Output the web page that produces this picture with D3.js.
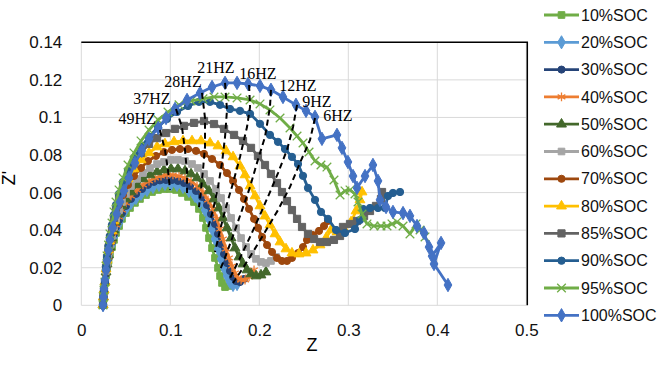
<!DOCTYPE html>
<html>
<head>
<meta charset="utf-8">
<script src="https://cdnjs.cloudflare.com/ajax/libs/d3/7.8.5/d3.min.js"></script>
<style>
body { margin: 0; background: #fff; }
</style>
</head>
<body>
<svg id="chart" width="665" height="367"></svg>
<script>
// series names and colours, in legend order
var seriesNames = ["10%SOC", "20%SOC", "30%SOC", "40%SOC", "50%SOC", "60%SOC",
    "70%SOC", "80%SOC", "85%SOC", "90%SOC", "95%SOC", "100%SOC"];
var seriesColors = ["#70AD47", "#5B9BD5", "#264478", "#ED7D31", "#43682B", "#A5A5A5",
    "#9E480E", "#FFC000", "#636363", "#255E91", "#70AD47", "#4472C4"];

// [Z, Z']
var soc10 = [[0.0244,0.0002],[0.0249,0.0044],[0.0255,0.0081],[0.0266,0.0124],[0.0278,0.0161],[0.0289,0.0199],
    [0.0306,0.0236],[0.0322,0.0273],[0.0345,0.031],[0.0367,0.0348],[0.039,0.0385],[0.0424,0.0422],[0.0457,0.046],
    [0.0502,0.0491],[0.0547,0.0518],[0.0603,0.0545],[0.0659,0.0566],[0.0727,0.0587],[0.0794,0.0603],[0.0862,0.0614],
    [0.0929,0.0619],[0.0997,0.0619],[0.1064,0.0614],[0.1131,0.0598],[0.1199,0.0577],[0.1266,0.055],[0.1322,0.0513],
    [0.1367,0.0465],[0.1401,0.0412],[0.1435,0.0358],[0.1469,0.0305],[0.1502,0.0252],[0.1536,0.0199],[0.1559,0.0156],
    [0.1581,0.0119],[0.1615,0.0097],[0.166,0.0103]];
var soc20 = [[0.0244,0.0002],[0.0249,0.0044],[0.0255,0.0081],[0.0266,0.0124],[0.0278,0.0167],[0.0289,0.0204],
    [0.0306,0.0247],[0.0322,0.0284],[0.0345,0.0326],[0.0367,0.0364],[0.039,0.0401],[0.0424,0.0438],[0.0457,0.0476],
    [0.0502,0.0513],[0.0558,0.0545],[0.0615,0.0571],[0.0671,0.0593],[0.0738,0.0614],[0.0806,0.063],[0.0873,0.0641],
    [0.094,0.0646],[0.1008,0.0646],[0.1075,0.0641],[0.1143,0.063],[0.121,0.0609],[0.1278,0.0582],[0.1334,0.055],
    [0.139,0.0507],[0.1435,0.046],[0.1469,0.0406],[0.1502,0.0353],[0.1536,0.03],[0.157,0.0247],[0.1604,0.0199],
    [0.1637,0.0156],[0.1671,0.0124],[0.1705,0.0108],[0.175,0.0113]];
var soc30 = [[0.0244,0.0002],[0.0249,0.0044],[0.0255,0.0081],[0.0266,0.0124],[0.0278,0.0167],[0.0289,0.0209],
    [0.0306,0.0252],[0.0322,0.0294],[0.0345,0.0337],[0.0367,0.038],[0.039,0.0417],[0.0424,0.0454],[0.0457,0.0491],
    [0.0502,0.0529],[0.0558,0.0566],[0.0615,0.0593],[0.0682,0.0619],[0.0749,0.0641],[0.0817,0.0657],[0.0884,0.0665],
    [0.0952,0.0667],[0.1019,0.0667],[0.1086,0.0662],[0.1154,0.0651],[0.1222,0.0635],[0.1289,0.0609],[0.1357,0.0577],
    [0.1412,0.0534],[0.1457,0.0486],[0.1502,0.0433],[0.1536,0.038],[0.157,0.0326],[0.1604,0.0273],[0.1637,0.0225],
    [0.1671,0.0183],[0.1705,0.0151],[0.1738,0.0129],[0.1783,0.0124],[0.1828,0.014]];
var soc40 = [[0.0244,0.0002],[0.0249,0.0044],[0.0255,0.0081],[0.0266,0.0124],[0.0278,0.0172],[0.0289,0.0215],
    [0.0306,0.0257],[0.0322,0.03],[0.0345,0.0348],[0.0367,0.039],[0.039,0.0428],[0.0424,0.047],[0.0457,0.0507],
    [0.0502,0.0545],[0.0558,0.0582],[0.0626,0.0614],[0.0693,0.0641],[0.0761,0.0662],[0.0828,0.0678],[0.0896,0.0688],
    [0.0963,0.0694],[0.103,0.0694],[0.1098,0.0688],[0.1165,0.0678],[0.1233,0.0662],[0.13,0.0635],[0.1367,0.0603],
    [0.1424,0.0561],[0.148,0.0513],[0.1525,0.046],[0.1559,0.0406],[0.1592,0.0353],[0.1626,0.03],[0.166,0.0252],
    [0.1693,0.0209],[0.1727,0.0172],[0.1761,0.0145],[0.1795,0.0135],[0.184,0.0135],[0.1885,0.0151],[0.1941,0.0188]];
var soc50 = [[0.0244,0.0002],[0.0249,0.0044],[0.0255,0.0081],[0.0266,0.0124],[0.0278,0.0177],[0.0289,0.022],
    [0.0306,0.0268],[0.0322,0.031],[0.0345,0.0358],[0.0367,0.0401],[0.039,0.0444],[0.0424,0.0486],[0.0457,0.0529],
    [0.0502,0.0566],[0.0558,0.0603],[0.0626,0.0641],[0.0693,0.0673],[0.0772,0.0694],[0.0851,0.071],[0.0929,0.072],
    [0.1008,0.0726],[0.1086,0.0726],[0.1165,0.0715],[0.1233,0.0699],[0.13,0.0678],[0.1367,0.0646],[0.1435,0.0609],
    [0.1491,0.0566],[0.1547,0.0518],[0.1592,0.0465],[0.1637,0.0412],[0.1683,0.0358],[0.1727,0.0305],[0.1772,0.0257],
    [0.1817,0.022],[0.1862,0.0188],[0.1907,0.0167],[0.1963,0.0156],[0.2019,0.0161],[0.2075,0.0177]];
var soc60 = [[0.0244,0.0002],[0.0249,0.0044],[0.0255,0.0081],[0.0266,0.0124],[0.0278,0.0183],[0.0289,0.0225],
    [0.0306,0.0273],[0.0322,0.0321],[0.0345,0.0369],[0.0367,0.0417],[0.039,0.046],[0.0424,0.0507],[0.0457,0.055],
    [0.0502,0.0593],[0.0558,0.0635],[0.0626,0.0673],[0.0693,0.0704],[0.0772,0.0731],[0.0851,0.0752],[0.0929,0.0763],
    [0.1008,0.0774],[0.1086,0.0774],[0.1165,0.0768],[0.1244,0.0752],[0.1311,0.0731],[0.1379,0.0699],[0.1446,0.0662],
    [0.1514,0.0619],[0.157,0.0571],[0.1626,0.0518],[0.1683,0.0465],[0.1738,0.0412],[0.1795,0.0358],[0.1851,0.031],
    [0.1907,0.0273],[0.1963,0.0247],[0.2019,0.0231],[0.2075,0.0225],[0.2131,0.0236],[0.2188,0.0257]];
var soc70 = [[0.0244,0.0002],[0.0249,0.0044],[0.0255,0.0081],[0.0266,0.0124],[0.0278,0.0188],[0.0289,0.0236],
    [0.0306,0.0284],[0.0322,0.0332],[0.0345,0.0385],[0.0367,0.0433],[0.039,0.0481],[0.0424,0.0534],[0.0469,0.0587],
    [0.0525,0.0641],[0.0592,0.0688],[0.0671,0.0731],[0.0749,0.0768],[0.0839,0.0795],[0.0929,0.0816],[0.1019,0.0827],
    [0.1109,0.0832],[0.1199,0.0832],[0.1289,0.0822],[0.1379,0.0806],[0.1469,0.0779],[0.1559,0.0747],[0.1637,0.0704],
    [0.1705,0.0662],[0.1772,0.0614],[0.1828,0.0566],[0.1884,0.0513],[0.1941,0.046],[0.1986,0.0412],[0.2031,0.0364],
    [0.2087,0.0321],[0.2143,0.0284],[0.2199,0.0252],[0.2255,0.0236],[0.2311,0.0236],[0.2367,0.0252],[0.2435,0.0278],
    [0.2491,0.031],[0.2536,0.0348],[0.2603,0.0374],[0.2671,0.0396],[0.2727,0.0422],[0.2772,0.0449]];
var soc80 = [[0.0244,0.0002],[0.0249,0.0044],[0.0255,0.0081],[0.0266,0.0124],[0.0278,0.0193],[0.0289,0.0241],
    [0.0306,0.0294],[0.0322,0.0342],[0.0345,0.0396],[0.0367,0.0449],[0.039,0.0497],[0.0424,0.0555],[0.0469,0.0614],
    [0.0525,0.0673],[0.0592,0.0726],[0.0671,0.0774],[0.0761,0.0811],[0.0851,0.0843],[0.094,0.0859],[0.1042,0.087],
    [0.1143,0.0875],[0.1244,0.0875],[0.1345,0.0875],[0.1446,0.0864],[0.1536,0.0848],[0.1626,0.0822],[0.1705,0.079],
    [0.1783,0.0742],[0.184,0.0694],[0.1896,0.0635],[0.1952,0.0582],[0.2008,0.0529],[0.2064,0.0475],[0.212,0.0428],
    [0.2177,0.038],[0.2233,0.0337],[0.23,0.03],[0.2367,0.0278],[0.2446,0.0273],[0.2525,0.0278],[0.2603,0.0294],
    [0.2682,0.0321],[0.275,0.0358],[0.2806,0.0401],[0.2873,0.039],[0.2952,0.0406],[0.3031,0.0444],[0.3087,0.0502],
    [0.3131,0.0561],[0.3154,0.0603]];
var soc85 = [[0.0244,0.0002],[0.0249,0.0044],[0.0255,0.0081],[0.0266,0.0124],[0.0278,0.0199],[0.0289,0.0252],
    [0.0306,0.0305],[0.0322,0.0358],[0.0345,0.0412],[0.0367,0.0465],[0.039,0.0518],[0.0424,0.0577],[0.0469,0.0641],
    [0.0525,0.0699],[0.0592,0.0758],[0.0671,0.0811],[0.0761,0.0859],[0.0851,0.089],[0.0952,0.0917],[0.1053,0.0939],
    [0.1154,0.0955],[0.1267,0.0971],[0.1379,0.0981],[0.1491,0.0965],[0.1604,0.0939],[0.1716,0.0907],[0.1817,0.0875],
    [0.1907,0.0838],[0.1985,0.0795],[0.2064,0.0747],[0.2131,0.0699],[0.2199,0.0651],[0.2255,0.0603],[0.2311,0.0555],
    [0.2367,0.0507],[0.2424,0.046],[0.248,0.0417],[0.2547,0.038],[0.2615,0.0353],[0.2682,0.0337],[0.276,0.0337],
    [0.2839,0.0348],[0.2907,0.0369],[0.294,0.0417],[0.3019,0.0433],[0.3098,0.0449],[0.3177,0.0475],[0.3244,0.0502],
    [0.3311,0.0529],[0.3367,0.0566],[0.3379,0.0603]];
var soc90 = [[0.0244,0.0002],[0.0249,0.0044],[0.0255,0.0081],[0.0266,0.0124],[0.0278,0.0204],[0.0289,0.0257],
    [0.0306,0.0316],[0.0322,0.0369],[0.0345,0.0428],[0.0367,0.0481],[0.039,0.0534],[0.0424,0.0593],[0.0469,0.0657],
    [0.0525,0.072],[0.0592,0.0784],[0.0671,0.0843],[0.0761,0.0896],[0.0862,0.0949],[0.0963,0.0992],[0.1075,0.1029],
    [0.1199,0.1061],[0.1322,0.1083],[0.1446,0.1083],[0.1559,0.1067],[0.1671,0.1045],[0.1783,0.1035],[0.1896,0.1019],
    [0.2008,0.0966],[0.212,0.0907],[0.221,0.087],[0.2289,0.0832],[0.2367,0.079],[0.2435,0.0752],[0.2491,0.0689],
    [0.2547,0.0625],[0.2626,0.0561],[0.2693,0.0497],[0.2772,0.046],[0.2862,0.0401],[0.2963,0.0385],[0.3075,0.0406],
    [0.3131,0.0454],[0.3165,0.0513],[0.3244,0.0518],[0.3334,0.0518],[0.3412,0.0518],[0.3446,0.0582],[0.3502,0.0598],
    [0.3581,0.0603]];
var soc95 = [[0.0244,0.0002],[0.0249,0.0044],[0.0255,0.0081],[0.0266,0.0124],[0.0278,0.0209],[0.0289,0.0263],
    [0.0306,0.0321],[0.0322,0.038],[0.0345,0.0438],[0.0367,0.0497],[0.039,0.055],[0.0424,0.0614],[0.0469,0.0678],
    [0.0525,0.0747],[0.0592,0.0811],[0.0671,0.0875],[0.0761,0.0933],[0.0862,0.0987],[0.0974,0.1029],[0.1098,0.1067],
    [0.1233,0.1088],[0.1367,0.1099],[0.1491,0.1109],[0.1615,0.1109],[0.175,0.1104],[0.1896,0.1093],[0.2008,0.1072],
    [0.212,0.104],[0.2233,0.0997],[0.2345,0.0944],[0.2424,0.0901],[0.2491,0.0864],[0.2559,0.0816],[0.2626,0.0768],
    [0.2693,0.0747],[0.276,0.0736],[0.2839,0.0667],[0.2907,0.0587],[0.2963,0.0609],[0.3019,0.0614],[0.3075,0.0593],
    [0.3109,0.055],[0.3154,0.0486],[0.321,0.0433],[0.3289,0.0422],[0.3367,0.0422],[0.3435,0.0422],[0.3491,0.0433],
    [0.3547,0.0444],[0.3615,0.0422],[0.3693,0.038],[0.3761,0.0433],[0.3806,0.0401],[0.3862,0.0364]];
var soc100 = [[0.0244,0.0002],[0.0249,0.0044],[0.0255,0.0087],[0.0266,0.0135],[0.0278,0.0188],[0.0289,0.0236],
    [0.0303,0.0294],[0.0322,0.0348],[0.0353,0.0412],[0.0398,0.0486],[0.0435,0.055],[0.048,0.0609],[0.0536,0.0678],
    [0.0603,0.0758],[0.0679,0.0822],[0.0761,0.0886],[0.0865,0.0944],[0.0952,0.0997],[0.1053,0.1045],[0.1188,0.1093],
    [0.1334,0.113],[0.1469,0.1162],[0.1615,0.1184],[0.175,0.1184],[0.1874,0.1178],[0.2008,0.1168],[0.2131,0.1147],
    [0.2266,0.1109],[0.2412,0.1067],[0.2525,0.1035],[0.2626,0.1003],[0.2704,0.0886],[0.2873,0.0907],[0.2929,0.0838],
    [0.2996,0.0763],[0.3053,0.0688],[0.3098,0.0625],[0.3188,0.0688],[0.3277,0.0747],[0.3334,0.0662],[0.3356,0.0561],
    [0.3424,0.0523],[0.3502,0.0497],[0.3615,0.0491],[0.3693,0.0476],[0.3772,0.0422],[0.3851,0.0385],[0.3907,0.031],
    [0.3941,0.0262],[0.4042,0.0332],[0.3963,0.022],[0.412,0.0108]];
var seriesData = [soc10, soc20, soc30, soc40, soc50, soc60, soc70, soc80, soc85, soc90, soc95, soc100];

// iso-frequency dashed lines, from the 100%SOC curve downwards
var freqNames = ["49HZ", "37HZ", "28HZ", "21HZ", "16HZ", "12HZ", "9HZ", "6HZ"];
var freqLabelAt = [[0.0627,0.0997],[0.0794,0.1099],[0.1143,0.119],[0.1513,0.1269],
    [0.1985,0.1232],[0.2434,0.1168],[0.2648,0.1088],[0.2884,0.1013]];
var hz49 = [[0.0884,0.0933],[0.094,0.0827],[0.0974,0.072],[0.0997,0.0614]];
var hz37 = [[0.1064,0.1045],[0.1131,0.0949],[0.1165,0.0827],[0.1188,0.0704],[0.1188,0.0598]];
var hz28 = [[0.1356,0.1131],[0.139,0.0997],[0.139,0.0843],[0.1367,0.072],[0.1345,0.0614],[0.1322,0.0523]];
var hz21 = [[0.1615,0.1184],[0.1637,0.104],[0.1615,0.0896],[0.1581,0.0758],[0.1536,0.063],[0.148,0.0507],[0.1424,0.0412]];
var hz16 = [[0.1885,0.1173],[0.1896,0.1056],[0.1862,0.0949],[0.1783,0.079],[0.1705,0.0651],[0.1626,0.0523],
    [0.1559,0.0401],[0.1502,0.0284]];
var hz12 = [[0.2131,0.1147],[0.212,0.1056],[0.2064,0.0896],[0.1974,0.0758],[0.1896,0.063],[0.1806,0.0507],
    [0.1716,0.0385],[0.1626,0.0268],[0.1559,0.0188]];
var hz9 = [[0.2424,0.1067],[0.2379,0.0949],[0.2311,0.0827],[0.221,0.0704],[0.212,0.0603],[0.2008,0.0481],
    [0.1896,0.0364],[0.1783,0.0252],[0.1671,0.0145]];
var hz6 = [[0.2626,0.0997],[0.257,0.088],[0.2457,0.0758],[0.2345,0.063],[0.221,0.0507],[0.2064,0.039],
    [0.1929,0.0284],[0.1817,0.0199],[0.1705,0.0119]];
var freqLines = [hz49, hz37, hz28, hz21, hz16, hz12, hz9, hz6];

var xTicks = [0, 0.1, 0.2, 0.3, 0.4, 0.5];
var yTicks = [0, 0.02, 0.04, 0.06, 0.08, 0.1, 0.12, 0.14];

var svg = d3.select("#chart");
var plotLeft = 81.3, plotRight = 526.3, plotTop = 42.3, plotBottom = 305.3;

var x = d3.scaleLinear().domain([0, 0.5]).range([plotLeft, plotRight]);
var y = d3.scaleLinear().domain([0, 0.14]).range([plotBottom, plotTop]);

var fontSans = "'Liberation Sans', Arial, sans-serif";

// grid
svg.append("g")
    .selectAll("line")
    .data(yTicks)
    .join("line")
    .attr("x1", plotLeft).attr("x2", plotRight)
    .attr("y1", d => y(d)).attr("y2", d => y(d))
    .style("stroke", "#D9D9D9")
    .style("stroke-width", 1);
svg.append("g")
    .selectAll("line")
    .data(xTicks)
    .join("line")
    .attr("x1", d => x(d)).attr("x2", d => x(d))
    .attr("y1", plotTop).attr("y2", plotBottom)
    .style("stroke", "#D9D9D9")
    .style("stroke-width", 1);

// black frame on top and right
svg.append("path")
    .attr("d", `M${plotLeft},${plotTop}H${plotRight + 1}V${plotBottom}`)
    .style("fill", "none")
    .style("stroke", "#000")
    .style("stroke-width", 1.5);

// axes
var xAxis = svg.append("g")
    .attr("transform", `translate(0,${plotBottom})`)
    .call(d3.axisBottom(x).tickValues(xTicks).tickSize(0).tickPadding(19).tickFormat(d => String(d)));
var yAxis = svg.append("g")
    .attr("transform", `translate(${plotLeft},0)`)
    .call(d3.axisLeft(y).tickValues(yTicks).tickSize(0).tickPadding(19).tickFormat(d => String(d)));
[xAxis, yAxis].forEach(function (g) {
    g.select(".domain").remove();
    g.selectAll("text")
        .style("font-family", fontSans)
        .style("font-size", "17px")
        .style("fill", "#111");
});

svg.append("text")
    .attr("x", 312).attr("y", 351)
    .attr("text-anchor", "middle")
    .style("font-family", fontSans)
    .style("font-size", "18px")
    .text("Z");
svg.append("text")
    .attr("transform", "translate(15,178) rotate(-90)")
    .attr("text-anchor", "middle")
    .style("font-family", fontSans)
    .style("font-size", "18px")
    .text("Z'");

// marker shapes per series
var symbolTypes = [d3.symbolSquare, d3.symbolDiamond, d3.symbolCircle, d3.symbolAsterisk,
    d3.symbolTriangle, d3.symbolSquare, d3.symbolCircle, d3.symbolTriangle,
    d3.symbolSquare, d3.symbolCircle, d3.symbolX, d3.symbolDiamond];
var symbolSizes = [44, 50, 40, 55, 42, 44, 40, 42, 52, 42, 50, 52];

function isStroke(i) {
    return symbolTypes[i] === d3.symbolAsterisk || symbolTypes[i] === d3.symbolX;
}

var line = d3.line().x(d => x(d[0])).y(d => y(d[1]));

var series = svg.append("g")
    .selectAll("g")
    .data(seriesData)
    .join("g");

series.append("path")
    .attr("d", d => line(d))
    .style("fill", "none")
    .style("stroke", (d, i) => seriesColors[i])
    .style("stroke-width", 2.8)
    .style("stroke-linejoin", "round");

series.each(function (d, i) {
    d3.select(this)
        .selectAll("path.mark")
        .data(d)
        .join("path")
        .attr("class", "mark")
        .attr("transform", p => `translate(${x(p[0])},${y(p[1])})`)
        .attr("d", d3.symbol().type(symbolTypes[i]).size(symbolSizes[i]))
        .style("fill", isStroke(i) ? "none" : seriesColors[i])
        .style("stroke", seriesColors[i])
        .style("stroke-width", isStroke(i) ? 1.3 : 1);
});

// iso-frequency lines
svg.append("g")
    .selectAll("path")
    .data(freqLines)
    .join("path")
    .attr("d", d => line(d))
    .style("fill", "none")
    .style("stroke", "#000")
    .style("stroke-width", 2)
    .style("stroke-dasharray", "6,4");

svg.append("g")
    .selectAll("text")
    .data(freqNames)
    .join("text")
    .attr("x", (d, i) => x(freqLabelAt[i][0]))
    .attr("y", (d, i) => y(freqLabelAt[i][1]))
    .attr("dy", "0.35em")
    .attr("text-anchor", "middle")
    .style("font-family", "'Liberation Serif', 'Times New Roman', serif")
    .style("font-size", "16px")
    .style("fill", "#000")
    .text(d => d);

// legend
var legend = svg.append("g")
    .selectAll("g")
    .data(seriesNames)
    .join("g")
    .attr("transform", (d, i) => `translate(544,${15 + i * 27.3})`);

legend.append("line")
    .attr("x1", 0).attr("x2", 35)
    .style("stroke", (d, i) => seriesColors[i])
    .style("stroke-width", 2.8);

legend.append("path")
    .attr("transform", "translate(17.5,0)")
    .attr("d", (d, i) => d3.symbol().type(symbolTypes[i]).size(symbolSizes[i])())
    .style("fill", (d, i) => isStroke(i) ? "none" : seriesColors[i])
    .style("stroke", (d, i) => seriesColors[i])
    .style("stroke-width", (d, i) => isStroke(i) ? 1.3 : 1);

legend.append("text")
    .attr("x", 37).attr("y", 0)
    .attr("dy", "0.35em")
    .style("font-family", fontSans)
    .style("font-size", "16px")
    .style("fill", "#111")
    .text(d => d);
</script>
</body>
</html>
